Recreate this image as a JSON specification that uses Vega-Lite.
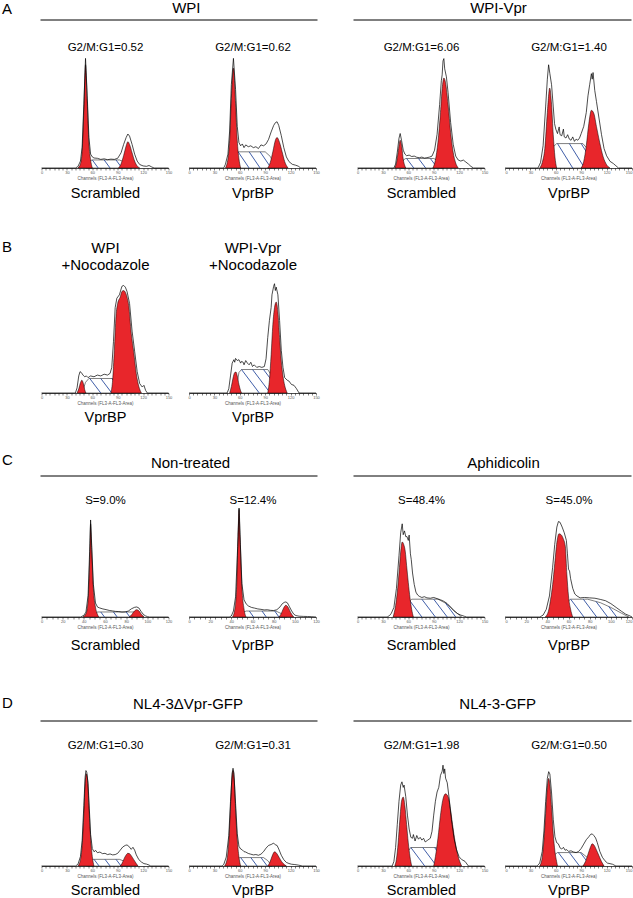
{
"$schema":"https://vega.github.io/schema/vega-lite/v6.json",
"autosize":{"type":"none"},
"padding":{"left":0,"top":20,"right":633,"bottom":878},
"config":{"view":{"stroke":null},"font":"Liberation Sans",
"title":{"fontWeight":"normal","color":"black","font":"Liberation Sans"},
"axis":{"grid":false,"zindex":1,"domainColor":"black","domainWidth":0.7,"tickColor":"black","tickWidth":0.5,"tickSize":2,"labelFontSize":4,"labelColor":"#555","labelPadding":0.5,"labelOverlap":false,"labelFlush":false,"titleFontSize":4.5,"titleFontWeight":"normal","titleColor":"#555","titlePadding":1}},
"datasets":{
"A1":[{"s":"s","x":52,"y":0},{"s":"s","x":56,"y":50},{"s":"s","x":60,"y":58},{"s":"s","x":92,"y":58},{"s":"s","x":97,"y":45},{"s":"s","x":106,"y":0},
{"s":"h","x":60,"x2":67,"y":58},{"s":"h","x":74,"x2":81,"y":58},{"s":"h","x":88,"x2":95,"y":58},
{"s":"g1","x":43,"y":0},{"s":"g1","x":46,"y":30},{"s":"g1","x":48,"y":120},{"s":"g1","x":50,"y":420},{"s":"g1","x":52,"y":745},{"s":"g1","x":54,"y":480},{"s":"g1","x":56,"y":180},{"s":"g1","x":58,"y":60},{"s":"g1","x":60,"y":0},
{"s":"g2","x":91,"y":0},{"s":"g2","x":94,"y":30},{"s":"g2","x":97,"y":90},{"s":"g2","x":100,"y":160},{"s":"g2","x":102,"y":190},{"s":"g2","x":104,"y":170},{"s":"g2","x":107,"y":110},{"s":"g2","x":110,"y":50},{"s":"g2","x":113,"y":15},{"s":"g2","x":116,"y":0},
{"s":"r","x":0,"y":0},{"s":"r","x":40,"y":0},{"s":"r","x":43,"y":10},{"s":"r","x":46,"y":50},{"s":"r","x":48,"y":150},{"s":"r","x":50,"y":460},{"s":"r","x":52,"y":790},{"s":"r","x":54,"y":520},{"s":"r","x":56,"y":220},{"s":"r","x":58,"y":100},{"s":"r","x":60,"y":80},{"s":"r","x":62,"y":72},{"s":"r","x":66,"y":70},{"s":"r","x":70,"y":62},{"s":"r","x":74,"y":66},{"s":"r","x":78,"y":60},{"s":"r","x":82,"y":64},{"s":"r","x":86,"y":62},{"s":"r","x":90,"y":70},{"s":"r","x":94,"y":110},{"s":"r","x":97,"y":170},{"s":"r","x":100,"y":220},{"s":"r","x":102,"y":245},{"s":"r","x":104,"y":230},{"s":"r","x":107,"y":170},{"s":"r","x":110,"y":100},{"s":"r","x":113,"y":50},{"s":"r","x":116,"y":25},{"s":"r","x":120,"y":15},{"s":"r","x":124,"y":12},{"s":"r","x":127,"y":18},{"s":"r","x":130,"y":8},{"s":"r","x":133,"y":0},{"s":"r","x":150,"y":0}],
"A2":[{"s":"s","x":53,"y":0},{"s":"s","x":56,"y":30},{"s":"s","x":58,"y":35},{"s":"s","x":90,"y":35},{"s":"s","x":96,"y":25},{"s":"s","x":103,"y":0},
{"s":"h","x":58,"x2":71,"y":35},{"s":"h","x":71,"x2":84,"y":35},{"s":"h","x":84,"x2":97,"y":35},
{"s":"g1","x":43,"y":0},{"s":"g1","x":46,"y":20},{"s":"g1","x":48,"y":60},{"s":"g1","x":50,"y":150},{"s":"g1","x":52.5,"y":216},{"s":"g1","x":55,"y":140},{"s":"g1","x":57,"y":60},{"s":"g1","x":59,"y":20},{"s":"g1","x":61,"y":0},
{"s":"g2","x":93,"y":0},{"s":"g2","x":96,"y":12},{"s":"g2","x":99,"y":35},{"s":"g2","x":102,"y":60},{"s":"g2","x":104,"y":66},{"s":"g2","x":107,"y":55},{"s":"g2","x":110,"y":35},{"s":"g2","x":113,"y":14},{"s":"g2","x":117,"y":0},
{"s":"r","x":0,"y":0},{"s":"r","x":41,"y":0},{"s":"r","x":43,"y":8},{"s":"r","x":46,"y":30},{"s":"r","x":48,"y":80},{"s":"r","x":50,"y":180},{"s":"r","x":52.5,"y":237},{"s":"r","x":55,"y":170},{"s":"r","x":57,"y":90},{"s":"r","x":59,"y":55},{"s":"r","x":61,"y":48},{"s":"r","x":63,"y":52},{"s":"r","x":65,"y":44},{"s":"r","x":67,"y":50},{"s":"r","x":70,"y":46},{"s":"r","x":73,"y":48},{"s":"r","x":76,"y":44},{"s":"r","x":79,"y":46},{"s":"r","x":82,"y":42},{"s":"r","x":85,"y":50},{"s":"r","x":88,"y":48},{"s":"r","x":91,"y":52},{"s":"r","x":94,"y":62},{"s":"r","x":97,"y":78},{"s":"r","x":100,"y":92},{"s":"r","x":102,"y":98},{"s":"r","x":104,"y":100},{"s":"r","x":106,"y":92},{"s":"r","x":109,"y":70},{"s":"r","x":112,"y":44},{"s":"r","x":115,"y":24},{"s":"r","x":118,"y":14},{"s":"r","x":122,"y":8},{"s":"r","x":126,"y":6},{"s":"r","x":129,"y":4},{"s":"r","x":132,"y":0},{"s":"r","x":150,"y":0}],
"A3":[{"s":"s","x":51,"y":0},{"s":"s","x":54,"y":40},{"s":"s","x":57,"y":48},{"s":"s","x":90,"y":48},{"s":"s","x":96,"y":35},{"s":"s","x":102,"y":0},
{"s":"h","x":58,"x2":66.5,"y":48},{"s":"h","x":72,"x2":80.5,"y":48},{"s":"h","x":86,"x2":94.5,"y":48},
{"s":"g1","x":44,"y":0},{"s":"g1","x":46,"y":25},{"s":"g1","x":48,"y":80},{"s":"g1","x":50.4,"y":140},{"s":"g1","x":52.5,"y":100},{"s":"g1","x":54,"y":45},{"s":"g1","x":56,"y":10},{"s":"g1","x":57,"y":0},
{"s":"g2","x":89,"y":0},{"s":"g2","x":92,"y":40},{"s":"g2","x":95,"y":130},{"s":"g2","x":98,"y":280},{"s":"g2","x":100,"y":400},{"s":"g2","x":102,"y":454},{"s":"g2","x":104,"y":430},{"s":"g2","x":107,"y":320},{"s":"g2","x":110,"y":180},{"s":"g2","x":113,"y":80},{"s":"g2","x":116,"y":25},{"s":"g2","x":119,"y":0},
{"s":"r","x":0,"y":0},{"s":"r","x":43,"y":0},{"s":"r","x":45,"y":20},{"s":"r","x":47,"y":80},{"s":"r","x":49,"y":150},{"s":"r","x":50.4,"y":174},{"s":"r","x":52,"y":140},{"s":"r","x":54,"y":90},{"s":"r","x":56,"y":70},{"s":"r","x":58,"y":62},{"s":"r","x":61,"y":65},{"s":"r","x":64,"y":58},{"s":"r","x":67,"y":60},{"s":"r","x":70,"y":54},{"s":"r","x":73,"y":52},{"s":"r","x":76,"y":55},{"s":"r","x":79,"y":50},{"s":"r","x":82,"y":52},{"s":"r","x":85,"y":55},{"s":"r","x":88,"y":60},{"s":"r","x":91,"y":90},{"s":"r","x":94,"y":170},{"s":"r","x":97,"y":320},{"s":"r","x":99,"y":440},{"s":"r","x":100,"y":470},{"s":"r","x":101,"y":540},{"s":"r","x":102,"y":552},{"s":"r","x":103,"y":500},{"s":"r","x":105,"y":460},{"s":"r","x":107,"y":380},{"s":"r","x":110,"y":230},{"s":"r","x":113,"y":120},{"s":"r","x":116,"y":60},{"s":"r","x":119,"y":40},{"s":"r","x":122,"y":35},{"s":"r","x":125,"y":40},{"s":"r","x":128,"y":30},{"s":"r","x":131,"y":20},{"s":"r","x":134,"y":8},{"s":"r","x":137,"y":0},{"s":"r","x":150,"y":0}],
"A4":[{"s":"s","x":53,"y":0},{"s":"s","x":57,"y":38},{"s":"s","x":61,"y":44},{"s":"s","x":92,"y":44},{"s":"s","x":100,"y":30},{"s":"s","x":112,"y":0},
{"s":"h","x":62,"x2":80,"y":44},{"s":"h","x":76,"x2":94,"y":44},{"s":"h","x":90,"x2":108,"y":44},
{"s":"g1","x":41,"y":0},{"s":"g1","x":44,"y":10},{"s":"g1","x":47,"y":35},{"s":"g1","x":50,"y":100},{"s":"g1","x":52.8,"y":144},{"s":"g1","x":55,"y":115},{"s":"g1","x":57,"y":60},{"s":"g1","x":59,"y":20},{"s":"g1","x":61,"y":0},
{"s":"g2","x":90,"y":0},{"s":"g2","x":93,"y":12},{"s":"g2","x":96,"y":40},{"s":"g2","x":99,"y":80},{"s":"g2","x":102,"y":104},{"s":"g2","x":105,"y":98},{"s":"g2","x":108,"y":75},{"s":"g2","x":112,"y":45},{"s":"g2","x":116,"y":20},{"s":"g2","x":120,"y":6},{"s":"g2","x":124,"y":0},
{"s":"r","x":0,"y":0},{"s":"r","x":39,"y":0},{"s":"r","x":42,"y":10},{"s":"r","x":45,"y":40},{"s":"r","x":48,"y":110},{"s":"r","x":50,"y":160},{"s":"r","x":51.5,"y":186},{"s":"r","x":53,"y":170},{"s":"r","x":55,"y":150},{"s":"r","x":57,"y":110},{"s":"r","x":58.5,"y":80},{"s":"r","x":60,"y":70},{"s":"r","x":62,"y":62},{"s":"r","x":64,"y":74},{"s":"r","x":65,"y":60},{"s":"r","x":67,"y":58},{"s":"r","x":69,"y":70},{"s":"r","x":70,"y":56},{"s":"r","x":72,"y":54},{"s":"r","x":74,"y":60},{"s":"r","x":76,"y":52},{"s":"r","x":78,"y":50},{"s":"r","x":80,"y":56},{"s":"r","x":82,"y":48},{"s":"r","x":84,"y":52},{"s":"r","x":86,"y":50},{"s":"r","x":88,"y":54},{"s":"r","x":90,"y":62},{"s":"r","x":93,"y":75},{"s":"r","x":96,"y":100},{"s":"r","x":98,"y":130},{"s":"r","x":100,"y":150},{"s":"r","x":102,"y":170},{"s":"r","x":103,"y":160},{"s":"r","x":104,"y":172},{"s":"r","x":106,"y":140},{"s":"r","x":108,"y":120},{"s":"r","x":111,"y":90},{"s":"r","x":114,"y":60},{"s":"r","x":117,"y":35},{"s":"r","x":120,"y":22},{"s":"r","x":124,"y":12},{"s":"r","x":128,"y":8},{"s":"r","x":131,"y":4},{"s":"r","x":134,"y":0},{"s":"r","x":150,"y":0}],
"B1":[{"s":"s","x":48,"y":0},{"s":"s","x":52,"y":25},{"s":"s","x":56,"y":34},{"s":"s","x":87,"y":34},{"s":"s","x":98,"y":18},{"s":"s","x":109,"y":0},
{"s":"h","x":57,"x2":70,"y":34},{"s":"h","x":70,"x2":83,"y":34},{"s":"h","x":83,"x2":96,"y":34},
{"s":"g1","x":42,"y":0},{"s":"g1","x":44,"y":10},{"s":"g1","x":46,"y":24},{"s":"g1","x":47.6,"y":30},{"s":"g1","x":49.5,"y":22},{"s":"g1","x":51,"y":8},{"s":"g1","x":52.5,"y":0},
{"s":"g2","x":82,"y":0},{"s":"g2","x":84,"y":30},{"s":"g2","x":86,"y":100},{"s":"g2","x":88,"y":180},{"s":"g2","x":90,"y":210},{"s":"g2","x":93,"y":225},{"s":"g2","x":95,"y":238},{"s":"g2","x":97,"y":240},{"s":"g2","x":99,"y":236},{"s":"g2","x":101,"y":225},{"s":"g2","x":103,"y":205},{"s":"g2","x":106,"y":140},{"s":"g2","x":109,"y":95},{"s":"g2","x":112,"y":45},{"s":"g2","x":115,"y":15},{"s":"g2","x":118,"y":0},
{"s":"r","x":0,"y":0},{"s":"r","x":40,"y":0},{"s":"r","x":42,"y":12},{"s":"r","x":44,"y":40},{"s":"r","x":45.5,"y":50},{"s":"r","x":47,"y":48},{"s":"r","x":49,"y":42},{"s":"r","x":51,"y":38},{"s":"r","x":53,"y":40},{"s":"r","x":55,"y":36},{"s":"r","x":58,"y":40},{"s":"r","x":62,"y":38},{"s":"r","x":66,"y":42},{"s":"r","x":70,"y":40},{"s":"r","x":74,"y":44},{"s":"r","x":78,"y":42},{"s":"r","x":81,"y":46},{"s":"r","x":83,"y":60},{"s":"r","x":85,"y":120},{"s":"r","x":87,"y":200},{"s":"r","x":89,"y":222},{"s":"r","x":92,"y":230},{"s":"r","x":95,"y":250},{"s":"r","x":97,"y":252},{"s":"r","x":99,"y":248},{"s":"r","x":101,"y":238},{"s":"r","x":104,"y":210},{"s":"r","x":107,"y":145},{"s":"r","x":110,"y":98},{"s":"r","x":113,"y":50},{"s":"r","x":116,"y":22},{"s":"r","x":119,"y":14},{"s":"r","x":121,"y":18},{"s":"r","x":123,"y":6},{"s":"r","x":125,"y":0},{"s":"r","x":150,"y":0}],
"B2":[{"s":"s","x":55,"y":0},{"s":"s","x":59,"y":48},{"s":"s","x":62,"y":55},{"s":"s","x":93,"y":55},{"s":"s","x":101,"y":30},{"s":"s","x":109,"y":0},
{"s":"h","x":62,"x2":83,"y":55},{"s":"h","x":75,"x2":96,"y":55},{"s":"h","x":88,"x2":109,"y":55},
{"s":"g1","x":48,"y":0},{"s":"g1","x":50,"y":15},{"s":"g1","x":52,"y":35},{"s":"g1","x":54,"y":48},{"s":"g1","x":55.5,"y":49},{"s":"g1","x":57,"y":40},{"s":"g1","x":59,"y":20},{"s":"g1","x":61,"y":5},{"s":"g1","x":62,"y":0},
{"s":"g2","x":93,"y":0},{"s":"g2","x":95,"y":30},{"s":"g2","x":97,"y":90},{"s":"g2","x":99,"y":160},{"s":"g2","x":101,"y":200},{"s":"g2","x":103,"y":213},{"s":"g2","x":105,"y":190},{"s":"g2","x":107,"y":130},{"s":"g2","x":109,"y":75},{"s":"g2","x":111,"y":40},{"s":"g2","x":113,"y":18},{"s":"g2","x":116,"y":0},
{"s":"r","x":0,"y":0},{"s":"r","x":45,"y":0},{"s":"r","x":47,"y":10},{"s":"r","x":49,"y":40},{"s":"r","x":51,"y":70},{"s":"r","x":53,"y":78},{"s":"r","x":54,"y":72},{"s":"r","x":55,"y":81},{"s":"r","x":57,"y":76},{"s":"r","x":59,"y":78},{"s":"r","x":61,"y":70},{"s":"r","x":62,"y":74},{"s":"r","x":64,"y":72},{"s":"r","x":65,"y":66},{"s":"r","x":67,"y":76},{"s":"r","x":69,"y":70},{"s":"r","x":71,"y":66},{"s":"r","x":73,"y":72},{"s":"r","x":75,"y":62},{"s":"r","x":77,"y":66},{"s":"r","x":80,"y":60},{"s":"r","x":83,"y":62},{"s":"r","x":86,"y":60},{"s":"r","x":89,"y":62},{"s":"r","x":91,"y":80},{"s":"r","x":93,"y":130},{"s":"r","x":95,"y":170},{"s":"r","x":97,"y":200},{"s":"r","x":98,"y":230},{"s":"r","x":100,"y":250},{"s":"r","x":101,"y":256},{"s":"r","x":102,"y":240},{"s":"r","x":103,"y":248},{"s":"r","x":105,"y":230},{"s":"r","x":107,"y":170},{"s":"r","x":109,"y":100},{"s":"r","x":111,"y":60},{"s":"r","x":113,"y":36},{"s":"r","x":116,"y":30},{"s":"r","x":118,"y":28},{"s":"r","x":121,"y":20},{"s":"r","x":124,"y":18},{"s":"r","x":127,"y":10},{"s":"r","x":130,"y":0},{"s":"r","x":150,"y":0}],
"C1":[{"s":"s","x":46,"y":0},{"s":"s","x":50,"y":40},{"s":"s","x":53,"y":61},{"s":"s","x":87,"y":61},{"s":"s","x":90,"y":40},{"s":"s","x":93,"y":0},
{"s":"h","x":56,"x2":59.5,"y":61},{"s":"h","x":68,"x2":71.5,"y":61},{"s":"h","x":80,"x2":83.5,"y":61},
{"s":"g1","x":39,"y":0},{"s":"g1","x":42,"y":40},{"s":"g1","x":44,"y":200},{"s":"g1","x":45.5,"y":700},{"s":"g1","x":46.4,"y":1134},{"s":"g1","x":47.5,"y":800},{"s":"g1","x":49,"y":350},{"s":"g1","x":51,"y":120},{"s":"g1","x":53,"y":30},{"s":"g1","x":54,"y":0},
{"s":"g2","x":83,"y":0},{"s":"g2","x":85,"y":25},{"s":"g2","x":87,"y":60},{"s":"g2","x":89,"y":85},{"s":"g2","x":90,"y":89},{"s":"g2","x":92,"y":75},{"s":"g2","x":94,"y":40},{"s":"g2","x":96,"y":12},{"s":"g2","x":97,"y":0},
{"s":"r","x":0,"y":0},{"s":"r","x":37,"y":0},{"s":"r","x":40,"y":20},{"s":"r","x":42,"y":60},{"s":"r","x":44,"y":260},{"s":"r","x":45.5,"y":800},{"s":"r","x":46.4,"y":1180},{"s":"r","x":47.5,"y":850},{"s":"r","x":49,"y":400},{"s":"r","x":51,"y":170},{"s":"r","x":53,"y":120},{"s":"r","x":55,"y":110},{"s":"r","x":58,"y":98},{"s":"r","x":61,"y":90},{"s":"r","x":64,"y":80},{"s":"r","x":67,"y":74},{"s":"r","x":70,"y":68},{"s":"r","x":73,"y":66},{"s":"r","x":76,"y":60},{"s":"r","x":79,"y":62},{"s":"r","x":82,"y":72},{"s":"r","x":85,"y":100},{"s":"r","x":88,"y":118},{"s":"r","x":90,"y":122},{"s":"r","x":92,"y":110},{"s":"r","x":94,"y":70},{"s":"r","x":96,"y":35},{"s":"r","x":98,"y":15},{"s":"r","x":100,"y":5},{"s":"r","x":102,"y":0},{"s":"r","x":120,"y":0}],
"C2":[{"s":"s","x":47,"y":0},{"s":"s","x":51,"y":45},{"s":"s","x":54,"y":59},{"s":"s","x":82,"y":59},{"s":"s","x":88,"y":30},{"s":"s","x":92,"y":0},
{"s":"h","x":57,"x2":61,"y":59},{"s":"h","x":69,"x2":73,"y":59},{"s":"h","x":81,"x2":85,"y":59},
{"s":"g1","x":41,"y":0},{"s":"g1","x":43,"y":60},{"s":"g1","x":45,"y":300},{"s":"g1","x":46.3,"y":800},{"s":"g1","x":47.3,"y":1067},{"s":"g1","x":48.3,"y":800},{"s":"g1","x":50,"y":300},{"s":"g1","x":52,"y":80},{"s":"g1","x":54,"y":0},
{"s":"g2","x":85,"y":0},{"s":"g2","x":87,"y":30},{"s":"g2","x":89,"y":80},{"s":"g2","x":91.5,"y":116},{"s":"g2","x":94,"y":90},{"s":"g2","x":96,"y":45},{"s":"g2","x":98,"y":12},{"s":"g2","x":99,"y":0},
{"s":"r","x":0,"y":0},{"s":"r","x":38,"y":0},{"s":"r","x":40,"y":10},{"s":"r","x":42,"y":60},{"s":"r","x":44,"y":200},{"s":"r","x":46,"y":700},{"s":"r","x":47.3,"y":1080},{"s":"r","x":48.5,"y":720},{"s":"r","x":50,"y":330},{"s":"r","x":52,"y":170},{"s":"r","x":54,"y":130},{"s":"r","x":56,"y":110},{"s":"r","x":59,"y":95},{"s":"r","x":62,"y":88},{"s":"r","x":65,"y":80},{"s":"r","x":68,"y":76},{"s":"r","x":71,"y":70},{"s":"r","x":74,"y":72},{"s":"r","x":77,"y":66},{"s":"r","x":80,"y":64},{"s":"r","x":83,"y":72},{"s":"r","x":86,"y":100},{"s":"r","x":88,"y":130},{"s":"r","x":90,"y":145},{"s":"r","x":91.5,"y":149},{"s":"r","x":93,"y":140},{"s":"r","x":95,"y":100},{"s":"r","x":97,"y":60},{"s":"r","x":99,"y":28},{"s":"r","x":101,"y":14},{"s":"r","x":104,"y":8},{"s":"r","x":108,"y":6},{"s":"r","x":112,"y":5},{"s":"r","x":116,"y":3},{"s":"r","x":120,"y":0}],
"C3":[{"s":"s","x":52,"y":0},{"s":"s","x":56,"y":40},{"s":"s","x":60,"y":75},{"s":"s","x":64,"y":93},{"s":"s","x":95,"y":93},{"s":"s","x":105,"y":70},{"s":"s","x":115,"y":30},{"s":"s","x":123,"y":0},
{"s":"h","x":62,"x2":76,"y":84},{"s":"h","x":76,"x2":92,"y":93},{"s":"h","x":90,"x2":106,"y":93},{"s":"h","x":104,"x2":116,"y":72},
{"s":"g1","x":42,"y":0},{"s":"g1","x":45,"y":60},{"s":"g1","x":47,"y":130},{"s":"g1","x":49,"y":230},{"s":"g1","x":51,"y":340},{"s":"g1","x":52.8,"y":392},{"s":"g1","x":54.5,"y":380},{"s":"g1","x":56.5,"y":340},{"s":"g1","x":58,"y":270},{"s":"g1","x":60,"y":180},{"s":"g1","x":62,"y":100},{"s":"g1","x":64,"y":40},{"s":"g1","x":66,"y":0},
{"s":"r","x":0,"y":0},{"s":"r","x":35,"y":0},{"s":"r","x":38,"y":8},{"s":"r","x":40,"y":20},{"s":"r","x":43,"y":50},{"s":"r","x":46,"y":150},{"s":"r","x":49,"y":320},{"s":"r","x":51,"y":440},{"s":"r","x":52.8,"y":487},{"s":"r","x":54,"y":430},{"s":"r","x":55.5,"y":450},{"s":"r","x":57,"y":420},{"s":"r","x":58.5,"y":420},{"s":"r","x":60,"y":400},{"s":"r","x":61,"y":428},{"s":"r","x":62.5,"y":330},{"s":"r","x":63.5,"y":300},{"s":"r","x":65,"y":230},{"s":"r","x":67,"y":170},{"s":"r","x":69,"y":130},{"s":"r","x":71,"y":115},{"s":"r","x":73,"y":108},{"s":"r","x":76,"y":102},{"s":"r","x":79,"y":106},{"s":"r","x":82,"y":100},{"s":"r","x":86,"y":98},{"s":"r","x":90,"y":102},{"s":"r","x":94,"y":96},{"s":"r","x":98,"y":90},{"s":"r","x":102,"y":82},{"s":"r","x":106,"y":70},{"s":"r","x":110,"y":52},{"s":"r","x":114,"y":32},{"s":"r","x":118,"y":18},{"s":"r","x":122,"y":10},{"s":"r","x":126,"y":4},{"s":"r","x":129,"y":0},{"s":"r","x":150,"y":0}],
"C4":[{"s":"s","x":50,"y":0},{"s":"s","x":54,"y":40},{"s":"s","x":58,"y":75},{"s":"s","x":62,"y":93},{"s":"s","x":78,"y":93},{"s":"s","x":90,"y":75},{"s":"s","x":100,"y":50},{"s":"s","x":110,"y":20},{"s":"s","x":117,"y":0},
{"s":"h","x":62,"x2":74.6,"y":93},{"s":"h","x":74,"x2":86.6,"y":93},{"s":"h","x":86,"x2":97,"y":81},{"s":"h","x":98,"x2":105.5,"y":55},
{"s":"g1","x":38,"y":0},{"s":"g1","x":41,"y":30},{"s":"g1","x":43,"y":90},{"s":"g1","x":45,"y":170},{"s":"g1","x":47,"y":280},{"s":"g1","x":49,"y":390},{"s":"g1","x":51,"y":435},{"s":"g1","x":53,"y":430},{"s":"g1","x":55,"y":410},{"s":"g1","x":57,"y":370},{"s":"g1","x":58.5,"y":220},{"s":"g1","x":60,"y":110},{"s":"g1","x":62,"y":40},{"s":"g1","x":64,"y":0},
{"s":"r","x":0,"y":0},{"s":"r","x":33,"y":0},{"s":"r","x":36,"y":10},{"s":"r","x":39,"y":40},{"s":"r","x":42,"y":110},{"s":"r","x":45,"y":260},{"s":"r","x":47,"y":380},{"s":"r","x":49,"y":470},{"s":"r","x":50.5,"y":499},{"s":"r","x":52,"y":495},{"s":"r","x":54,"y":470},{"s":"r","x":56,"y":440},{"s":"r","x":58,"y":400},{"s":"r","x":59,"y":330},{"s":"r","x":60,"y":250},{"s":"r","x":61,"y":240},{"s":"r","x":62,"y":200},{"s":"r","x":64,"y":150},{"s":"r","x":66,"y":120},{"s":"r","x":68,"y":110},{"s":"r","x":71,"y":100},{"s":"r","x":75,"y":102},{"s":"r","x":80,"y":100},{"s":"r","x":85,"y":98},{"s":"r","x":90,"y":92},{"s":"r","x":95,"y":85},{"s":"r","x":100,"y":70},{"s":"r","x":105,"y":50},{"s":"r","x":110,"y":30},{"s":"r","x":114,"y":15},{"s":"r","x":117,"y":8},{"s":"r","x":119,"y":3},{"s":"r","x":120,"y":0}],
"D1":[{"s":"s","x":53,"y":0},{"s":"s","x":57,"y":30},{"s":"s","x":61,"y":42},{"s":"s","x":92,"y":42},{"s":"s","x":98,"y":30},{"s":"s","x":104,"y":0},
{"s":"h","x":62,"x2":68,"y":42},{"s":"h","x":75,"x2":81,"y":42},{"s":"h","x":88,"x2":94,"y":42},
{"s":"g1","x":43,"y":0},{"s":"g1","x":46,"y":40},{"s":"g1","x":48,"y":130},{"s":"g1","x":50,"y":330},{"s":"g1","x":51.5,"y":520},{"s":"g1","x":53,"y":581},{"s":"g1","x":54.5,"y":540},{"s":"g1","x":56,"y":380},{"s":"g1","x":58,"y":180},{"s":"g1","x":60,"y":60},{"s":"g1","x":62,"y":0},
{"s":"g2","x":93,"y":0},{"s":"g2","x":95,"y":15},{"s":"g2","x":97,"y":40},{"s":"g2","x":100,"y":70},{"s":"g2","x":102,"y":80},{"s":"g2","x":104,"y":78},{"s":"g2","x":106,"y":65},{"s":"g2","x":109,"y":40},{"s":"g2","x":112,"y":15},{"s":"g2","x":114,"y":0},
{"s":"r","x":0,"y":0},{"s":"r","x":40,"y":0},{"s":"r","x":43,"y":10},{"s":"r","x":46,"y":60},{"s":"r","x":48,"y":160},{"s":"r","x":50,"y":380},{"s":"r","x":51.5,"y":560},{"s":"r","x":52.5,"y":602},{"s":"r","x":53.5,"y":590},{"s":"r","x":55,"y":520},{"s":"r","x":56.5,"y":360},{"s":"r","x":58,"y":200},{"s":"r","x":60,"y":110},{"s":"r","x":62,"y":90},{"s":"r","x":64,"y":98},{"s":"r","x":66,"y":84},{"s":"r","x":69,"y":88},{"s":"r","x":72,"y":78},{"s":"r","x":75,"y":80},{"s":"r","x":78,"y":72},{"s":"r","x":81,"y":76},{"s":"r","x":84,"y":70},{"s":"r","x":87,"y":72},{"s":"r","x":90,"y":80},{"s":"r","x":93,"y":100},{"s":"r","x":96,"y":120},{"s":"r","x":99,"y":130},{"s":"r","x":101,"y":133},{"s":"r","x":103,"y":125},{"s":"r","x":106,"y":105},{"s":"r","x":108,"y":118},{"s":"r","x":110,"y":100},{"s":"r","x":112,"y":70},{"s":"r","x":115,"y":40},{"s":"r","x":118,"y":25},{"s":"r","x":121,"y":15},{"s":"r","x":124,"y":12},{"s":"r","x":127,"y":6},{"s":"r","x":129,"y":0},{"s":"r","x":150,"y":0}],
"D2":[{"s":"s","x":52,"y":0},{"s":"s","x":56,"y":35},{"s":"s","x":60,"y":47},{"s":"s","x":88,"y":47},{"s":"s","x":93,"y":30},{"s":"s","x":98,"y":0},
{"s":"h","x":61,"x2":68.4,"y":47},{"s":"h","x":73,"x2":80.4,"y":47},{"s":"h","x":85,"x2":92.4,"y":47},
{"s":"g1","x":42,"y":0},{"s":"g1","x":45,"y":40},{"s":"g1","x":47,"y":140},{"s":"g1","x":49,"y":330},{"s":"g1","x":50.5,"y":480},{"s":"g1","x":52,"y":533},{"s":"g1","x":53.5,"y":480},{"s":"g1","x":55,"y":320},{"s":"g1","x":57,"y":150},{"s":"g1","x":59,"y":50},{"s":"g1","x":61,"y":0},
{"s":"g2","x":93,"y":0},{"s":"g2","x":95,"y":15},{"s":"g2","x":97,"y":40},{"s":"g2","x":99,"y":65},{"s":"g2","x":101,"y":79},{"s":"g2","x":103,"y":74},{"s":"g2","x":105,"y":60},{"s":"g2","x":108,"y":35},{"s":"g2","x":111,"y":15},{"s":"g2","x":115,"y":0},
{"s":"r","x":0,"y":0},{"s":"r","x":39,"y":0},{"s":"r","x":41,"y":8},{"s":"r","x":44,"y":50},{"s":"r","x":47,"y":170},{"s":"r","x":49,"y":360},{"s":"r","x":51,"y":520},{"s":"r","x":52,"y":546},{"s":"r","x":53,"y":520},{"s":"r","x":55,"y":350},{"s":"r","x":57,"y":180},{"s":"r","x":59,"y":110},{"s":"r","x":61,"y":95},{"s":"r","x":63,"y":90},{"s":"r","x":65,"y":80},{"s":"r","x":67,"y":78},{"s":"r","x":70,"y":70},{"s":"r","x":73,"y":66},{"s":"r","x":76,"y":62},{"s":"r","x":79,"y":64},{"s":"r","x":82,"y":60},{"s":"r","x":85,"y":66},{"s":"r","x":88,"y":80},{"s":"r","x":91,"y":100},{"s":"r","x":94,"y":115},{"s":"r","x":97,"y":120},{"s":"r","x":100,"y":128},{"s":"r","x":102,"y":118},{"s":"r","x":104,"y":115},{"s":"r","x":106,"y":95},{"s":"r","x":109,"y":60},{"s":"r","x":112,"y":35},{"s":"r","x":115,"y":20},{"s":"r","x":118,"y":14},{"s":"r","x":121,"y":10},{"s":"r","x":125,"y":8},{"s":"r","x":129,"y":5},{"s":"r","x":134,"y":0},{"s":"r","x":150,"y":0}],
"D3":[{"s":"s","x":54,"y":0},{"s":"s","x":59,"y":30},{"s":"s","x":63,"y":40},{"s":"s","x":93,"y":40},{"s":"s","x":101,"y":20},{"s":"s","x":109,"y":0},
{"s":"h","x":63,"x2":79.4,"y":40},{"s":"h","x":77,"x2":93.4,"y":40},{"s":"h","x":91,"x2":107.4,"y":40},
{"s":"g1","x":44,"y":0},{"s":"g1","x":46,"y":15},{"s":"g1","x":48,"y":50},{"s":"g1","x":50,"y":100},{"s":"g1","x":52,"y":140},{"s":"g1","x":54,"y":149},{"s":"g1","x":56,"y":130},{"s":"g1","x":58,"y":90},{"s":"g1","x":60,"y":50},{"s":"g1","x":62,"y":20},{"s":"g1","x":64,"y":0},
{"s":"g2","x":90,"y":0},{"s":"g2","x":92,"y":20},{"s":"g2","x":95,"y":60},{"s":"g2","x":98,"y":110},{"s":"g2","x":101,"y":145},{"s":"g2","x":104,"y":156},{"s":"g2","x":107,"y":150},{"s":"g2","x":110,"y":120},{"s":"g2","x":113,"y":80},{"s":"g2","x":116,"y":45},{"s":"g2","x":119,"y":20},{"s":"g2","x":123,"y":0},
{"s":"r","x":0,"y":0},{"s":"r","x":41,"y":0},{"s":"r","x":43,"y":10},{"s":"r","x":45,"y":40},{"s":"r","x":47,"y":90},{"s":"r","x":49,"y":140},{"s":"r","x":51,"y":175},{"s":"r","x":52.5,"y":182},{"s":"r","x":54,"y":170},{"s":"r","x":55,"y":175},{"s":"r","x":57,"y":150},{"s":"r","x":59,"y":110},{"s":"r","x":61,"y":80},{"s":"r","x":63,"y":62},{"s":"r","x":65,"y":60},{"s":"r","x":66,"y":68},{"s":"r","x":68,"y":54},{"s":"r","x":70,"y":66},{"s":"r","x":72,"y":58},{"s":"r","x":74,"y":62},{"s":"r","x":76,"y":56},{"s":"r","x":78,"y":60},{"s":"r","x":80,"y":52},{"s":"r","x":83,"y":56},{"s":"r","x":86,"y":60},{"s":"r","x":88,"y":75},{"s":"r","x":90,"y":110},{"s":"r","x":92,"y":140},{"s":"r","x":94,"y":160},{"s":"r","x":96,"y":170},{"s":"r","x":98,"y":196},{"s":"r","x":100,"y":205},{"s":"r","x":101,"y":218},{"s":"r","x":102,"y":200},{"s":"r","x":103,"y":210},{"s":"r","x":104,"y":190},{"s":"r","x":106,"y":180},{"s":"r","x":108,"y":150},{"s":"r","x":111,"y":100},{"s":"r","x":114,"y":60},{"s":"r","x":117,"y":35},{"s":"r","x":120,"y":20},{"s":"r","x":123,"y":14},{"s":"r","x":127,"y":10},{"s":"r","x":131,"y":0},{"s":"r","x":150,"y":0}],
"D4":[{"s":"s","x":52,"y":0},{"s":"s","x":57,"y":35},{"s":"s","x":62,"y":46},{"s":"s","x":90,"y":46},{"s":"s","x":99,"y":25},{"s":"s","x":109,"y":0},
{"s":"h","x":63,"x2":75,"y":46},{"s":"h","x":76,"x2":88,"y":46},{"s":"h","x":89,"x2":101,"y":46},
{"s":"g1","x":41,"y":0},{"s":"g1","x":44,"y":30},{"s":"g1","x":46,"y":90},{"s":"g1","x":48,"y":180},{"s":"g1","x":50,"y":270},{"s":"g1","x":51.6,"y":300},{"s":"g1","x":53,"y":280},{"s":"g1","x":55,"y":200},{"s":"g1","x":57,"y":110},{"s":"g1","x":59,"y":50},{"s":"g1","x":61,"y":15},{"s":"g1","x":62,"y":0},
{"s":"g2","x":92,"y":0},{"s":"g2","x":95,"y":15},{"s":"g2","x":98,"y":40},{"s":"g2","x":101,"y":65},{"s":"g2","x":103,"y":76},{"s":"g2","x":105,"y":72},{"s":"g2","x":108,"y":55},{"s":"g2","x":111,"y":35},{"s":"g2","x":114,"y":15},{"s":"g2","x":117,"y":0},
{"s":"r","x":0,"y":0},{"s":"r","x":38,"y":0},{"s":"r","x":41,"y":10},{"s":"r","x":44,"y":50},{"s":"r","x":46,"y":120},{"s":"r","x":48,"y":220},{"s":"r","x":50,"y":300},{"s":"r","x":51.6,"y":323},{"s":"r","x":53,"y":315},{"s":"r","x":55,"y":250},{"s":"r","x":57,"y":160},{"s":"r","x":59,"y":100},{"s":"r","x":61,"y":80},{"s":"r","x":63,"y":76},{"s":"r","x":65,"y":62},{"s":"r","x":67,"y":58},{"s":"r","x":69,"y":64},{"s":"r","x":71,"y":54},{"s":"r","x":73,"y":56},{"s":"r","x":75,"y":50},{"s":"r","x":78,"y":52},{"s":"r","x":81,"y":48},{"s":"r","x":84,"y":46},{"s":"r","x":87,"y":50},{"s":"r","x":90,"y":60},{"s":"r","x":93,"y":75},{"s":"r","x":96,"y":90},{"s":"r","x":99,"y":100},{"s":"r","x":101,"y":108},{"s":"r","x":103,"y":110},{"s":"r","x":105,"y":104},{"s":"r","x":107,"y":96},{"s":"r","x":109,"y":80},{"s":"r","x":112,"y":50},{"s":"r","x":115,"y":30},{"s":"r","x":118,"y":18},{"s":"r","x":121,"y":10},{"s":"r","x":124,"y":8},{"s":"r","x":127,"y":6},{"s":"r","x":131,"y":0},{"s":"r","x":150,"y":0}]
},
"columns":5,
"bounds":"flush",
"align":"each",
"spacing":{"row":0,"column":20.5},
"concat":[
{"width":20.5,"height":37,"data":{"values":[]},"mark":"point","title":{"text":"A","fontSize":15,"anchor":"start","frame":"group","offset":3.5,"dx":2}},
{"width":127,"height":37,"data":{"values":[{}]},"title":{"text":"WPI","fontSize":15,"offset":3.8,"dx":81.3},"mark":{"type":"rule","stroke":"black","strokeWidth":1},"encoding":{"x":{"datum":-1,"type":"quantitative","scale":{"domain":[0,127],"nice":false},"axis":null},"x2":{"datum":276},"y":{"datum":1,"type":"quantitative","scale":{"domain":[0,1],"nice":false},"axis":null}}},
{"width":147.5,"height":37,"data":{"values":[]},"mark":"point"},
{"width":127,"height":37,"data":{"values":[{}]},"title":{"text":"WPI-Vpr","fontSize":15,"offset":3.8,"dx":77.5},"mark":{"type":"rule","stroke":"black","strokeWidth":1},"encoding":{"x":{"datum":-4,"type":"quantitative","scale":{"domain":[0,127],"nice":false},"axis":null},"x2":{"datum":274},"y":{"datum":1,"type":"quantitative","scale":{"domain":[0,1],"nice":false},"axis":null}}},
{"width":127,"height":37,"data":{"values":[]},"mark":"point"},

{"width":20.5,"height":224.7,"data":{"values":[]},"mark":"point"},
{"width":127,"height":111,"data":{"name":"A1"},"resolve":{"axis":{"x":"independent"}},"layer":[
{"transform":[{"filter":"datum.s=='s'"}],"mark":{"type":"area","fill":"white","stroke":"black","strokeWidth":0.5},"encoding":{"x":{"field":"x","type":"quantitative","scale":{"domain":[0,150],"nice":false},"axis":{"title":"Channels (FL3-A-FL3-Area)","tickCount":30,"labelExpr":"datum.value % 30 ? '' : datum.label"}},"y":{"field":"y","type":"quantitative","stack":false,"scale":{"domain":[0,800],"nice":false},"axis":{"title":"Number","tickCount":40,"labelExpr":"datum.value % 100 ? '' : datum.label","labelAngle":-90,"labelAlign":"center","labelBaseline":"bottom"}}}},
{"transform":[{"filter":"datum.s=='h'"}],"mark":{"type":"rule","stroke":"#2a4c9e","strokeWidth":0.9},"encoding":{"x":{"field":"x","type":"quantitative","axis":null},"x2":{"field":"x2"},"y":{"field":"y","type":"quantitative","axis":null},"y2":{"datum":0}}},
{"transform":[{"filter":"datum.s=='g1'"}],"mark":{"type":"area","interpolate":"monotone","fill":"#e8262b","stroke":"black","strokeWidth":0.5},"encoding":{"x":{"field":"x","type":"quantitative","axis":{"orient":"top","domain":false,"ticks":false,"labels":false,"title":"G2/M:G1=0.52","titleFontSize":11.5,"titleColor":"black","titlePadding":4.6}},"y":{"field":"y","type":"quantitative","stack":false,"axis":null}}},
{"transform":[{"filter":"datum.s=='g2'"}],"mark":{"type":"area","interpolate":"monotone","fill":"#e8262b","stroke":"black","strokeWidth":0.5},"encoding":{"x":{"field":"x","type":"quantitative","axis":null},"y":{"field":"y","type":"quantitative","stack":false,"axis":null}}},
{"transform":[{"filter":"datum.s=='r'"}],"mark":{"type":"line","stroke":"black","strokeWidth":0.7},"encoding":{"x":{"field":"x","type":"quantitative","axis":{"orient":"bottom","domain":false,"ticks":false,"labels":false,"title":"Scrambled","titleFontSize":14.5,"titleColor":"black","titlePadding":18.9}},"y":{"field":"y","type":"quantitative","axis":null}}}]},
{"width":127,"height":111,"data":{"name":"A2"},"resolve":{"axis":{"x":"independent"}},"layer":[
{"transform":[{"filter":"datum.s=='s'"}],"mark":{"type":"area","fill":"white","stroke":"black","strokeWidth":0.5},"encoding":{"x":{"field":"x","type":"quantitative","scale":{"domain":[0,150],"nice":false},"axis":{"title":"Channels (FL3-A-FL3-Area)","tickCount":30,"labelExpr":"datum.value % 30 ? '' : datum.label"}},"y":{"field":"y","type":"quantitative","stack":false,"scale":{"domain":[0,240],"nice":false},"axis":{"title":"Number","tickCount":24,"labelExpr":"datum.value % 50 ? '' : datum.label","labelAngle":-90,"labelAlign":"center","labelBaseline":"bottom"}}}},
{"transform":[{"filter":"datum.s=='h'"}],"mark":{"type":"rule","stroke":"#2a4c9e","strokeWidth":0.9},"encoding":{"x":{"field":"x","type":"quantitative","axis":null},"x2":{"field":"x2"},"y":{"field":"y","type":"quantitative","axis":null},"y2":{"datum":0}}},
{"transform":[{"filter":"datum.s=='g1'"}],"mark":{"type":"area","interpolate":"monotone","fill":"#e8262b","stroke":"black","strokeWidth":0.5},"encoding":{"x":{"field":"x","type":"quantitative","axis":{"orient":"top","domain":false,"ticks":false,"labels":false,"title":"G2/M:G1=0.62","titleFontSize":11.5,"titleColor":"black","titlePadding":4.6}},"y":{"field":"y","type":"quantitative","stack":false,"axis":null}}},
{"transform":[{"filter":"datum.s=='g2'"}],"mark":{"type":"area","interpolate":"monotone","fill":"#e8262b","stroke":"black","strokeWidth":0.5},"encoding":{"x":{"field":"x","type":"quantitative","axis":null},"y":{"field":"y","type":"quantitative","stack":false,"axis":null}}},
{"transform":[{"filter":"datum.s=='r'"}],"mark":{"type":"line","stroke":"black","strokeWidth":0.7},"encoding":{"x":{"field":"x","type":"quantitative","axis":{"orient":"bottom","domain":false,"ticks":false,"labels":false,"title":"VprBP","titleFontSize":14.5,"titleColor":"black","titlePadding":18.9}},"y":{"field":"y","type":"quantitative","axis":null}}}]},
{"width":127,"height":111,"data":{"name":"A3"},"resolve":{"axis":{"x":"independent"}},"layer":[
{"transform":[{"filter":"datum.s=='s'"}],"mark":{"type":"area","fill":"white","stroke":"black","strokeWidth":0.5},"encoding":{"x":{"field":"x","type":"quantitative","scale":{"domain":[0,150],"nice":false},"axis":{"title":"Channels (FL3-A-FL3-Area)","tickCount":30,"labelExpr":"datum.value % 30 ? '' : datum.label"}},"y":{"field":"y","type":"quantitative","stack":false,"scale":{"domain":[0,560],"nice":false},"axis":{"title":"Number","tickCount":28,"labelExpr":"datum.value % 100 ? '' : datum.label","labelAngle":-90,"labelAlign":"center","labelBaseline":"bottom"}}}},
{"transform":[{"filter":"datum.s=='h'"}],"mark":{"type":"rule","stroke":"#2a4c9e","strokeWidth":0.9},"encoding":{"x":{"field":"x","type":"quantitative","axis":null},"x2":{"field":"x2"},"y":{"field":"y","type":"quantitative","axis":null},"y2":{"datum":0}}},
{"transform":[{"filter":"datum.s=='g1'"}],"mark":{"type":"area","interpolate":"monotone","fill":"#e8262b","stroke":"black","strokeWidth":0.5},"encoding":{"x":{"field":"x","type":"quantitative","axis":{"orient":"top","domain":false,"ticks":false,"labels":false,"title":"G2/M:G1=6.06","titleFontSize":11.5,"titleColor":"black","titlePadding":4.6}},"y":{"field":"y","type":"quantitative","stack":false,"axis":null}}},
{"transform":[{"filter":"datum.s=='g2'"}],"mark":{"type":"area","interpolate":"monotone","fill":"#e8262b","stroke":"black","strokeWidth":0.5},"encoding":{"x":{"field":"x","type":"quantitative","axis":null},"y":{"field":"y","type":"quantitative","stack":false,"axis":null}}},
{"transform":[{"filter":"datum.s=='r'"}],"mark":{"type":"line","stroke":"black","strokeWidth":0.7},"encoding":{"x":{"field":"x","type":"quantitative","axis":{"orient":"bottom","domain":false,"ticks":false,"labels":false,"title":"Scrambled","titleFontSize":14.5,"titleColor":"black","titlePadding":18.9}},"y":{"field":"y","type":"quantitative","axis":null}}}]},
{"width":127,"height":111,"data":{"name":"A4"},"resolve":{"axis":{"x":"independent"}},"layer":[
{"transform":[{"filter":"datum.s=='s'"}],"mark":{"type":"area","fill":"white","stroke":"black","strokeWidth":0.5},"encoding":{"x":{"field":"x","type":"quantitative","scale":{"domain":[0,150],"nice":false},"axis":{"title":"Channels (FL3-A-FL3-Area)","tickCount":30,"labelFlush":true,"labelExpr":"datum.value % 30 ? '' : datum.label"}},"y":{"field":"y","type":"quantitative","stack":false,"scale":{"domain":[0,200],"nice":false},"axis":{"title":"Number","tickCount":20,"labelExpr":"datum.value % 50 ? '' : datum.label","labelAngle":-90,"labelAlign":"center","labelBaseline":"bottom"}}}},
{"transform":[{"filter":"datum.s=='h'"}],"mark":{"type":"rule","stroke":"#2a4c9e","strokeWidth":0.9},"encoding":{"x":{"field":"x","type":"quantitative","axis":null},"x2":{"field":"x2"},"y":{"field":"y","type":"quantitative","axis":null},"y2":{"datum":0}}},
{"transform":[{"filter":"datum.s=='g1'"}],"mark":{"type":"area","interpolate":"monotone","fill":"#e8262b","stroke":"black","strokeWidth":0.5},"encoding":{"x":{"field":"x","type":"quantitative","axis":{"orient":"top","domain":false,"ticks":false,"labels":false,"title":"G2/M:G1=1.40","titleFontSize":11.5,"titleColor":"black","titlePadding":4.6}},"y":{"field":"y","type":"quantitative","stack":false,"axis":null}}},
{"transform":[{"filter":"datum.s=='g2'"}],"mark":{"type":"area","interpolate":"monotone","fill":"#e8262b","stroke":"black","strokeWidth":0.5},"encoding":{"x":{"field":"x","type":"quantitative","axis":null},"y":{"field":"y","type":"quantitative","stack":false,"axis":null}}},
{"transform":[{"filter":"datum.s=='r'"}],"mark":{"type":"line","stroke":"black","strokeWidth":0.7},"encoding":{"x":{"field":"x","type":"quantitative","axis":{"orient":"bottom","domain":false,"ticks":false,"labels":false,"title":"VprBP","titleFontSize":14.5,"titleColor":"black","titlePadding":18.9}},"y":{"field":"y","type":"quantitative","axis":null}}}]},

{"width":20.5,"height":194,"data":{"values":[]},"mark":"point","title":{"text":"B","fontSize":15,"anchor":"start","frame":"group","offset":26.9,"dx":2}},
{"width":127,"height":111,"data":{"name":"B1"},"resolve":{"axis":{"x":"independent"}},"layer":[
{"transform":[{"filter":"datum.s=='s'"}],"mark":{"type":"area","fill":"white","stroke":"black","strokeWidth":0.5},"encoding":{"x":{"field":"x","type":"quantitative","scale":{"domain":[0,150],"nice":false},"axis":{"title":"Channels (FL3-A-FL3-Area)","tickCount":30,"labelExpr":"datum.value % 30 ? '' : datum.label"}},"y":{"field":"y","type":"quantitative","stack":false,"scale":{"domain":[0,260],"nice":false},"axis":{"title":"Number","tickCount":26,"labelExpr":"datum.value % 50 ? '' : datum.label","labelAngle":-90,"labelAlign":"center","labelBaseline":"bottom"}}}},
{"transform":[{"filter":"datum.s=='h'"}],"mark":{"type":"rule","stroke":"#2a4c9e","strokeWidth":0.9},"encoding":{"x":{"field":"x","type":"quantitative","axis":null},"x2":{"field":"x2"},"y":{"field":"y","type":"quantitative","axis":null},"y2":{"datum":0}}},
{"transform":[{"filter":"datum.s=='g1'"}],"mark":{"type":"area","interpolate":"monotone","fill":"#e8262b","stroke":"black","strokeWidth":0.5},"encoding":{"x":{"field":"x","type":"quantitative","axis":{"orient":"top","domain":false,"ticks":false,"labels":false,"title":["WPI","+Nocodazole"],"titleFontSize":15,"titleLineHeight":17,"titleColor":"black","titlePadding":9.3}},"y":{"field":"y","type":"quantitative","stack":false,"axis":null}}},
{"transform":[{"filter":"datum.s=='g2'"}],"mark":{"type":"area","interpolate":"monotone","fill":"#e8262b","stroke":"black","strokeWidth":0.5},"encoding":{"x":{"field":"x","type":"quantitative","axis":null},"y":{"field":"y","type":"quantitative","stack":false,"axis":null}}},
{"transform":[{"filter":"datum.s=='r'"}],"mark":{"type":"line","stroke":"black","strokeWidth":0.7},"encoding":{"x":{"field":"x","type":"quantitative","axis":{"orient":"bottom","domain":false,"ticks":false,"labels":false,"title":"VprBP","titleFontSize":14.5,"titleColor":"black","titlePadding":17.3}},"y":{"field":"y","type":"quantitative","axis":null}}}]},
{"width":127,"height":111,"data":{"name":"B2"},"resolve":{"axis":{"x":"independent"}},"layer":[
{"transform":[{"filter":"datum.s=='s'"}],"mark":{"type":"area","fill":"white","stroke":"black","strokeWidth":0.5},"encoding":{"x":{"field":"x","type":"quantitative","scale":{"domain":[0,150],"nice":false},"axis":{"title":"Channels (FL3-A-FL3-Area)","tickCount":30,"labelExpr":"datum.value % 30 ? '' : datum.label"}},"y":{"field":"y","type":"quantitative","stack":false,"scale":{"domain":[0,260],"nice":false},"axis":{"title":"Number","tickCount":26,"labelExpr":"datum.value % 50 ? '' : datum.label","labelAngle":-90,"labelAlign":"center","labelBaseline":"bottom"}}}},
{"transform":[{"filter":"datum.s=='h'"}],"mark":{"type":"rule","stroke":"#2a4c9e","strokeWidth":0.9},"encoding":{"x":{"field":"x","type":"quantitative","axis":null},"x2":{"field":"x2"},"y":{"field":"y","type":"quantitative","axis":null},"y2":{"datum":0}}},
{"transform":[{"filter":"datum.s=='g1'"}],"mark":{"type":"area","interpolate":"monotone","fill":"#e8262b","stroke":"black","strokeWidth":0.5},"encoding":{"x":{"field":"x","type":"quantitative","axis":{"orient":"top","domain":false,"ticks":false,"labels":false,"title":["WPI-Vpr","+Nocodazole"],"titleFontSize":15,"titleLineHeight":17,"titleColor":"black","titlePadding":9.3}},"y":{"field":"y","type":"quantitative","stack":false,"axis":null}}},
{"transform":[{"filter":"datum.s=='g2'"}],"mark":{"type":"area","interpolate":"monotone","fill":"#e8262b","stroke":"black","strokeWidth":0.5},"encoding":{"x":{"field":"x","type":"quantitative","axis":null},"y":{"field":"y","type":"quantitative","stack":false,"axis":null}}},
{"transform":[{"filter":"datum.s=='r'"}],"mark":{"type":"line","stroke":"black","strokeWidth":0.7},"encoding":{"x":{"field":"x","type":"quantitative","axis":{"orient":"bottom","domain":false,"ticks":false,"labels":false,"title":"VprBP","titleFontSize":14.5,"titleColor":"black","titlePadding":17.3}},"y":{"field":"y","type":"quantitative","axis":null}}}]},
{"width":127,"height":111,"data":{"values":[]},"mark":"point"},
{"width":127,"height":111,"data":{"values":[]},"mark":"point"},

{"width":20.5,"height":29.3,"data":{"values":[]},"mark":"point","title":{"text":"C","fontSize":15,"anchor":"start","frame":"group","offset":7.8,"dx":2}},
{"width":127,"height":29.3,"data":{"values":[{}]},"title":{"text":"Non-treated","fontSize":15,"offset":4.85,"dx":85.5},"mark":{"type":"rule","stroke":"black","strokeWidth":1},"encoding":{"x":{"datum":-1,"type":"quantitative","scale":{"domain":[0,127],"nice":false},"axis":null},"x2":{"datum":276},"y":{"datum":1,"type":"quantitative","scale":{"domain":[0,1],"nice":false},"axis":null}}},
{"width":147.5,"height":29.3,"data":{"values":[]},"mark":"point"},
{"width":127,"height":29.3,"data":{"values":[{}]},"title":{"text":"Aphidicolin","fontSize":15,"offset":4.85,"dx":82.5},"mark":{"type":"rule","stroke":"black","strokeWidth":1},"encoding":{"x":{"datum":-4,"type":"quantitative","scale":{"domain":[0,127],"nice":false},"axis":null},"x2":{"datum":274},"y":{"datum":1,"type":"quantitative","scale":{"domain":[0,1],"nice":false},"axis":null}}},
{"width":127,"height":29.3,"data":{"values":[]},"mark":"point"},

{"width":20.5,"height":215,"data":{"values":[]},"mark":"point"},
{"width":127,"height":111,"data":{"name":"C1"},"resolve":{"axis":{"x":"independent"}},"layer":[
{"transform":[{"filter":"datum.s=='s'"}],"mark":{"type":"area","fill":"white","stroke":"black","strokeWidth":0.5},"encoding":{"x":{"field":"x","type":"quantitative","scale":{"domain":[0,120],"nice":false},"axis":{"title":"Channels (FL3-A-FL3-Area)","tickCount":24,"labelExpr":"datum.value % 20 ? '' : datum.label"}},"y":{"field":"y","type":"quantitative","stack":false,"scale":{"domain":[0,1350],"nice":false},"axis":{"title":"Number","tickCount":27,"labelExpr":"datum.value % 300 ? '' : datum.label","labelAngle":-90,"labelAlign":"center","labelBaseline":"bottom"}}}},
{"transform":[{"filter":"datum.s=='h'"}],"mark":{"type":"rule","stroke":"#2a4c9e","strokeWidth":0.9},"encoding":{"x":{"field":"x","type":"quantitative","axis":null},"x2":{"field":"x2"},"y":{"field":"y","type":"quantitative","axis":null},"y2":{"datum":0}}},
{"transform":[{"filter":"datum.s=='g1'"}],"mark":{"type":"area","interpolate":"monotone","fill":"#e8262b","stroke":"black","strokeWidth":0.5},"encoding":{"x":{"field":"x","type":"quantitative","axis":{"orient":"top","domain":false,"ticks":false,"labels":false,"title":"S=9.0%","titleFontSize":11.5,"titleColor":"black","titlePadding":0.6}},"y":{"field":"y","type":"quantitative","stack":false,"axis":null}}},
{"transform":[{"filter":"datum.s=='g2'"}],"mark":{"type":"area","interpolate":"monotone","fill":"#e8262b","stroke":"black","strokeWidth":0.5},"encoding":{"x":{"field":"x","type":"quantitative","axis":null},"y":{"field":"y","type":"quantitative","stack":false,"axis":null}}},
{"transform":[{"filter":"datum.s=='r'"}],"mark":{"type":"line","stroke":"black","strokeWidth":0.7},"encoding":{"x":{"field":"x","type":"quantitative","axis":{"orient":"bottom","domain":false,"ticks":false,"labels":false,"title":"Scrambled","titleFontSize":14.5,"titleColor":"black","titlePadding":21.5}},"y":{"field":"y","type":"quantitative","axis":null}}}]},
{"width":127,"height":111,"data":{"name":"C2"},"resolve":{"axis":{"x":"independent"}},"layer":[
{"transform":[{"filter":"datum.s=='s'"}],"mark":{"type":"area","fill":"white","stroke":"black","strokeWidth":0.5},"encoding":{"x":{"field":"x","type":"quantitative","scale":{"domain":[0,120],"nice":false},"axis":{"title":"Channels (FL3-A-FL3-Area)","tickCount":24,"labelExpr":"datum.value % 20 ? '' : datum.label"}},"y":{"field":"y","type":"quantitative","stack":false,"scale":{"domain":[0,1100],"nice":false},"axis":{"title":"Number","tickCount":22,"labelExpr":"datum.value % 200 ? '' : datum.label","labelAngle":-90,"labelAlign":"center","labelBaseline":"bottom"}}}},
{"transform":[{"filter":"datum.s=='h'"}],"mark":{"type":"rule","stroke":"#2a4c9e","strokeWidth":0.9},"encoding":{"x":{"field":"x","type":"quantitative","axis":null},"x2":{"field":"x2"},"y":{"field":"y","type":"quantitative","axis":null},"y2":{"datum":0}}},
{"transform":[{"filter":"datum.s=='g1'"}],"mark":{"type":"area","interpolate":"monotone","fill":"#e8262b","stroke":"black","strokeWidth":0.5},"encoding":{"x":{"field":"x","type":"quantitative","axis":{"orient":"top","domain":false,"ticks":false,"labels":false,"title":"S=12.4%","titleFontSize":11.5,"titleColor":"black","titlePadding":0.6}},"y":{"field":"y","type":"quantitative","stack":false,"axis":null}}},
{"transform":[{"filter":"datum.s=='g2'"}],"mark":{"type":"area","interpolate":"monotone","fill":"#e8262b","stroke":"black","strokeWidth":0.5},"encoding":{"x":{"field":"x","type":"quantitative","axis":null},"y":{"field":"y","type":"quantitative","stack":false,"axis":null}}},
{"transform":[{"filter":"datum.s=='r'"}],"mark":{"type":"line","stroke":"black","strokeWidth":0.7},"encoding":{"x":{"field":"x","type":"quantitative","axis":{"orient":"bottom","domain":false,"ticks":false,"labels":false,"title":"VprBP","titleFontSize":14.5,"titleColor":"black","titlePadding":21.5}},"y":{"field":"y","type":"quantitative","axis":null}}}]},
{"width":127,"height":111,"data":{"name":"C3"},"resolve":{"axis":{"x":"independent"}},"layer":[
{"transform":[{"filter":"datum.s=='s'"}],"mark":{"type":"area","fill":"white","stroke":"black","strokeWidth":0.5},"encoding":{"x":{"field":"x","type":"quantitative","scale":{"domain":[0,150],"nice":false},"axis":{"title":"Channels (FL3-A-FL3-Area)","tickCount":30,"labelExpr":"datum.value % 30 ? '' : datum.label"}},"y":{"field":"y","type":"quantitative","stack":false,"scale":{"domain":[0,580],"nice":false},"axis":{"title":"Number","tickCount":29,"labelExpr":"datum.value % 100 ? '' : datum.label","labelAngle":-90,"labelAlign":"center","labelBaseline":"bottom"}}}},
{"transform":[{"filter":"datum.s=='h'"}],"mark":{"type":"rule","stroke":"#2a4c9e","strokeWidth":0.9},"encoding":{"x":{"field":"x","type":"quantitative","axis":null},"x2":{"field":"x2"},"y":{"field":"y","type":"quantitative","axis":null},"y2":{"datum":0}}},
{"transform":[{"filter":"datum.s=='g1'"}],"mark":{"type":"area","interpolate":"monotone","fill":"#e8262b","stroke":"black","strokeWidth":0.5},"encoding":{"x":{"field":"x","type":"quantitative","axis":{"orient":"top","domain":false,"ticks":false,"labels":false,"title":"S=48.4%","titleFontSize":11.5,"titleColor":"black","titlePadding":0.6}},"y":{"field":"y","type":"quantitative","stack":false,"axis":null}}},
{"transform":[{"filter":"datum.s=='g2'"}],"mark":{"type":"area","interpolate":"monotone","fill":"#e8262b","stroke":"black","strokeWidth":0.5},"encoding":{"x":{"field":"x","type":"quantitative","axis":null},"y":{"field":"y","type":"quantitative","stack":false,"axis":null}}},
{"transform":[{"filter":"datum.s=='r'"}],"mark":{"type":"line","stroke":"black","strokeWidth":0.7},"encoding":{"x":{"field":"x","type":"quantitative","axis":{"orient":"bottom","domain":false,"ticks":false,"labels":false,"title":"Scrambled","titleFontSize":14.5,"titleColor":"black","titlePadding":21.5}},"y":{"field":"y","type":"quantitative","axis":null}}}]},
{"width":127,"height":111,"data":{"name":"C4"},"resolve":{"axis":{"x":"independent"}},"layer":[
{"transform":[{"filter":"datum.s=='s'"}],"mark":{"type":"area","fill":"white","stroke":"black","strokeWidth":0.5},"encoding":{"x":{"field":"x","type":"quantitative","scale":{"domain":[0,120],"nice":false},"axis":{"title":"Channels (FL3-A-FL3-Area)","tickCount":24,"labelFlush":true,"labelExpr":"datum.value % 20 ? '' : datum.label"}},"y":{"field":"y","type":"quantitative","stack":false,"scale":{"domain":[0,580],"nice":false},"axis":{"title":"Number","tickCount":29,"labelExpr":"datum.value % 100 ? '' : datum.label","labelAngle":-90,"labelAlign":"center","labelBaseline":"bottom"}}}},
{"transform":[{"filter":"datum.s=='h'"}],"mark":{"type":"rule","stroke":"#2a4c9e","strokeWidth":0.9},"encoding":{"x":{"field":"x","type":"quantitative","axis":null},"x2":{"field":"x2"},"y":{"field":"y","type":"quantitative","axis":null},"y2":{"datum":0}}},
{"transform":[{"filter":"datum.s=='g1'"}],"mark":{"type":"area","interpolate":"monotone","fill":"#e8262b","stroke":"black","strokeWidth":0.5},"encoding":{"x":{"field":"x","type":"quantitative","axis":{"orient":"top","domain":false,"ticks":false,"labels":false,"title":"S=45.0%","titleFontSize":11.5,"titleColor":"black","titlePadding":0.6}},"y":{"field":"y","type":"quantitative","stack":false,"axis":null}}},
{"transform":[{"filter":"datum.s=='g2'"}],"mark":{"type":"area","interpolate":"monotone","fill":"#e8262b","stroke":"black","strokeWidth":0.5},"encoding":{"x":{"field":"x","type":"quantitative","axis":null},"y":{"field":"y","type":"quantitative","stack":false,"axis":null}}},
{"transform":[{"filter":"datum.s=='r'"}],"mark":{"type":"line","stroke":"black","strokeWidth":0.7},"encoding":{"x":{"field":"x","type":"quantitative","axis":{"orient":"bottom","domain":false,"ticks":false,"labels":false,"title":"VprBP","titleFontSize":14.5,"titleColor":"black","titlePadding":21.5}},"y":{"field":"y","type":"quantitative","axis":null}}}]},

{"width":20.5,"height":33.3,"data":{"values":[]},"mark":"point","title":{"text":"D","fontSize":15,"anchor":"start","frame":"group","offset":10.2,"dx":2}},
{"width":127,"height":33.3,"data":{"values":[{}]},"title":{"text":"NL4-3ΔVpr-GFP","fontSize":15,"offset":8.5,"dx":83},"mark":{"type":"rule","stroke":"black","strokeWidth":1},"encoding":{"x":{"datum":-1,"type":"quantitative","scale":{"domain":[0,127],"nice":false},"axis":null},"x2":{"datum":276},"y":{"datum":1,"type":"quantitative","scale":{"domain":[0,1],"nice":false},"axis":null}}},
{"width":147.5,"height":33.3,"data":{"values":[]},"mark":"point"},
{"width":127,"height":33.3,"data":{"values":[{}]},"title":{"text":"NL4-3-GFP","fontSize":15,"offset":8.5,"dx":76.7},"mark":{"type":"rule","stroke":"black","strokeWidth":1},"encoding":{"x":{"datum":-4,"type":"quantitative","scale":{"domain":[0,127],"nice":false},"axis":null},"x2":{"datum":274},"y":{"datum":1,"type":"quantitative","scale":{"domain":[0,1],"nice":false},"axis":null}}},
{"width":127,"height":33.3,"data":{"values":[]},"mark":"point"},

{"width":20.5,"height":111,"data":{"values":[]},"mark":"point"},
{"width":127,"height":111,"data":{"name":"D1"},"resolve":{"axis":{"x":"independent"}},"layer":[
{"transform":[{"filter":"datum.s=='s'"}],"mark":{"type":"area","fill":"white","stroke":"black","strokeWidth":0.5},"encoding":{"x":{"field":"x","type":"quantitative","scale":{"domain":[0,150],"nice":false},"axis":{"title":"Channels (FL3-A-FL3-Area)","tickCount":30,"labelExpr":"datum.value % 30 ? '' : datum.label"}},"y":{"field":"y","type":"quantitative","stack":false,"scale":{"domain":[0,700],"nice":false},"axis":{"title":"Number","tickCount":35,"labelExpr":"datum.value % 100 ? '' : datum.label","labelAngle":-90,"labelAlign":"center","labelBaseline":"bottom"}}}},
{"transform":[{"filter":"datum.s=='h'"}],"mark":{"type":"rule","stroke":"#2a4c9e","strokeWidth":0.9},"encoding":{"x":{"field":"x","type":"quantitative","axis":null},"x2":{"field":"x2"},"y":{"field":"y","type":"quantitative","axis":null},"y2":{"datum":0}}},
{"transform":[{"filter":"datum.s=='g1'"}],"mark":{"type":"area","interpolate":"monotone","fill":"#e8262b","stroke":"black","strokeWidth":0.5},"encoding":{"x":{"field":"x","type":"quantitative","axis":{"orient":"top","domain":false,"ticks":false,"labels":false,"title":"G2/M:G1=0.30","titleFontSize":11.5,"titleColor":"black","titlePadding":4.2}},"y":{"field":"y","type":"quantitative","stack":false,"axis":null}}},
{"transform":[{"filter":"datum.s=='g2'"}],"mark":{"type":"area","interpolate":"monotone","fill":"#e8262b","stroke":"black","strokeWidth":0.5},"encoding":{"x":{"field":"x","type":"quantitative","axis":null},"y":{"field":"y","type":"quantitative","stack":false,"axis":null}}},
{"transform":[{"filter":"datum.s=='r'"}],"mark":{"type":"line","stroke":"black","strokeWidth":0.7},"encoding":{"x":{"field":"x","type":"quantitative","axis":{"orient":"bottom","domain":false,"ticks":false,"labels":false,"title":"Scrambled","titleFontSize":14.5,"titleColor":"black","titlePadding":17.5}},"y":{"field":"y","type":"quantitative","axis":null}}}]},
{"width":127,"height":111,"data":{"name":"D2"},"resolve":{"axis":{"x":"independent"}},"layer":[
{"transform":[{"filter":"datum.s=='s'"}],"mark":{"type":"area","fill":"white","stroke":"black","strokeWidth":0.5},"encoding":{"x":{"field":"x","type":"quantitative","scale":{"domain":[0,150],"nice":false},"axis":{"title":"Channels (FL3-A-FL3-Area)","tickCount":30,"labelExpr":"datum.value % 30 ? '' : datum.label"}},"y":{"field":"y","type":"quantitative","stack":false,"scale":{"domain":[0,620],"nice":false},"axis":{"title":"Number","tickCount":31,"labelExpr":"datum.value % 100 ? '' : datum.label","labelAngle":-90,"labelAlign":"center","labelBaseline":"bottom"}}}},
{"transform":[{"filter":"datum.s=='h'"}],"mark":{"type":"rule","stroke":"#2a4c9e","strokeWidth":0.9},"encoding":{"x":{"field":"x","type":"quantitative","axis":null},"x2":{"field":"x2"},"y":{"field":"y","type":"quantitative","axis":null},"y2":{"datum":0}}},
{"transform":[{"filter":"datum.s=='g1'"}],"mark":{"type":"area","interpolate":"monotone","fill":"#e8262b","stroke":"black","strokeWidth":0.5},"encoding":{"x":{"field":"x","type":"quantitative","axis":{"orient":"top","domain":false,"ticks":false,"labels":false,"title":"G2/M:G1=0.31","titleFontSize":11.5,"titleColor":"black","titlePadding":4.2}},"y":{"field":"y","type":"quantitative","stack":false,"axis":null}}},
{"transform":[{"filter":"datum.s=='g2'"}],"mark":{"type":"area","interpolate":"monotone","fill":"#e8262b","stroke":"black","strokeWidth":0.5},"encoding":{"x":{"field":"x","type":"quantitative","axis":null},"y":{"field":"y","type":"quantitative","stack":false,"axis":null}}},
{"transform":[{"filter":"datum.s=='r'"}],"mark":{"type":"line","stroke":"black","strokeWidth":0.7},"encoding":{"x":{"field":"x","type":"quantitative","axis":{"orient":"bottom","domain":false,"ticks":false,"labels":false,"title":"VprBP","titleFontSize":14.5,"titleColor":"black","titlePadding":17.5}},"y":{"field":"y","type":"quantitative","axis":null}}}]},
{"width":127,"height":111,"data":{"name":"D3"},"resolve":{"axis":{"x":"independent"}},"layer":[
{"transform":[{"filter":"datum.s=='s'"}],"mark":{"type":"area","fill":"white","stroke":"black","strokeWidth":0.5},"encoding":{"x":{"field":"x","type":"quantitative","scale":{"domain":[0,150],"nice":false},"axis":{"title":"Channels (FL3-A-FL3-Area)","tickCount":30,"labelExpr":"datum.value % 30 ? '' : datum.label"}},"y":{"field":"y","type":"quantitative","stack":false,"scale":{"domain":[0,240],"nice":false},"axis":{"title":"Number","tickCount":24,"labelExpr":"datum.value % 50 ? '' : datum.label","labelAngle":-90,"labelAlign":"center","labelBaseline":"bottom"}}}},
{"transform":[{"filter":"datum.s=='h'"}],"mark":{"type":"rule","stroke":"#2a4c9e","strokeWidth":0.9},"encoding":{"x":{"field":"x","type":"quantitative","axis":null},"x2":{"field":"x2"},"y":{"field":"y","type":"quantitative","axis":null},"y2":{"datum":0}}},
{"transform":[{"filter":"datum.s=='g1'"}],"mark":{"type":"area","interpolate":"monotone","fill":"#e8262b","stroke":"black","strokeWidth":0.5},"encoding":{"x":{"field":"x","type":"quantitative","axis":{"orient":"top","domain":false,"ticks":false,"labels":false,"title":"G2/M:G1=1.98","titleFontSize":11.5,"titleColor":"black","titlePadding":4.2}},"y":{"field":"y","type":"quantitative","stack":false,"axis":null}}},
{"transform":[{"filter":"datum.s=='g2'"}],"mark":{"type":"area","interpolate":"monotone","fill":"#e8262b","stroke":"black","strokeWidth":0.5},"encoding":{"x":{"field":"x","type":"quantitative","axis":null},"y":{"field":"y","type":"quantitative","stack":false,"axis":null}}},
{"transform":[{"filter":"datum.s=='r'"}],"mark":{"type":"line","stroke":"black","strokeWidth":0.7},"encoding":{"x":{"field":"x","type":"quantitative","axis":{"orient":"bottom","domain":false,"ticks":false,"labels":false,"title":"Scrambled","titleFontSize":14.5,"titleColor":"black","titlePadding":17.5}},"y":{"field":"y","type":"quantitative","axis":null}}}]},
{"width":127,"height":111,"data":{"name":"D4"},"resolve":{"axis":{"x":"independent"}},"layer":[
{"transform":[{"filter":"datum.s=='s'"}],"mark":{"type":"area","fill":"white","stroke":"black","strokeWidth":0.5},"encoding":{"x":{"field":"x","type":"quantitative","scale":{"domain":[0,150],"nice":false},"axis":{"title":"Channels (FL3-A-FL3-Area)","tickCount":30,"labelFlush":true,"labelExpr":"datum.value % 30 ? '' : datum.label"}},"y":{"field":"y","type":"quantitative","stack":false,"scale":{"domain":[0,380],"nice":false},"axis":{"title":"Number","tickCount":38,"labelExpr":"datum.value % 50 ? '' : datum.label","labelAngle":-90,"labelAlign":"center","labelBaseline":"bottom"}}}},
{"transform":[{"filter":"datum.s=='h'"}],"mark":{"type":"rule","stroke":"#2a4c9e","strokeWidth":0.9},"encoding":{"x":{"field":"x","type":"quantitative","axis":null},"x2":{"field":"x2"},"y":{"field":"y","type":"quantitative","axis":null},"y2":{"datum":0}}},
{"transform":[{"filter":"datum.s=='g1'"}],"mark":{"type":"area","interpolate":"monotone","fill":"#e8262b","stroke":"black","strokeWidth":0.5},"encoding":{"x":{"field":"x","type":"quantitative","axis":{"orient":"top","domain":false,"ticks":false,"labels":false,"title":"G2/M:G1=0.50","titleFontSize":11.5,"titleColor":"black","titlePadding":4.2}},"y":{"field":"y","type":"quantitative","stack":false,"axis":null}}},
{"transform":[{"filter":"datum.s=='g2'"}],"mark":{"type":"area","interpolate":"monotone","fill":"#e8262b","stroke":"black","strokeWidth":0.5},"encoding":{"x":{"field":"x","type":"quantitative","axis":null},"y":{"field":"y","type":"quantitative","stack":false,"axis":null}}},
{"transform":[{"filter":"datum.s=='r'"}],"mark":{"type":"line","stroke":"black","strokeWidth":0.7},"encoding":{"x":{"field":"x","type":"quantitative","axis":{"orient":"bottom","domain":false,"ticks":false,"labels":false,"title":"VprBP","titleFontSize":14.5,"titleColor":"black","titlePadding":17.5}},"y":{"field":"y","type":"quantitative","axis":null}}}]}
]
}
